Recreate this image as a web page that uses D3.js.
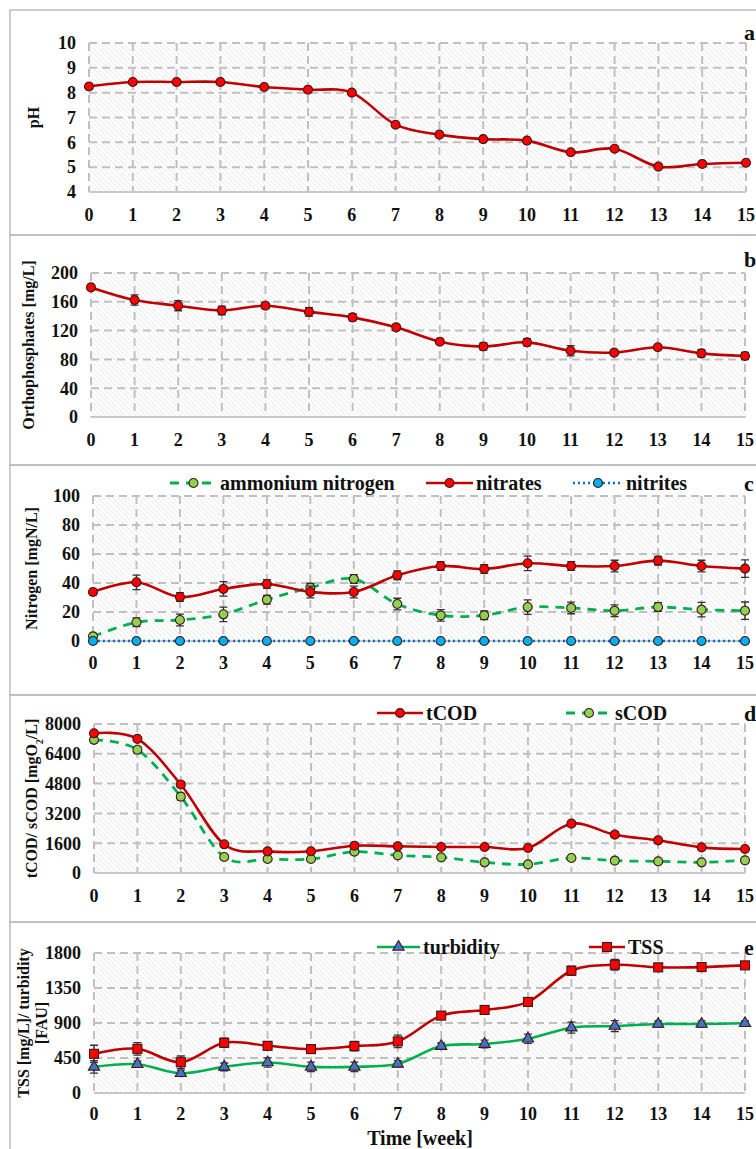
<!DOCTYPE html>
<html>
<head>
<meta charset="utf-8">
<script src="https://cdn.jsdelivr.net/npm/d3@7"></script>
<style>
  body { margin: 0; background: #fff; }
</style>
</head>
<body>
<div id="chart"></div>
<script>
// weeks on the x axis
var weeks = d3.range(0, 16);

// a - pH
var pH = [8.25, 8.43, 8.43, 8.43, 8.23, 8.12, 8.0, 6.71, 6.31, 6.13, 6.07, 5.6, 5.74, 5.02, 5.13, 5.18];
var pHErr = [0.05, 0.05, 0.05, 0.05, 0.05, 0.05, 0.05, 0.05, 0.05, 0.05, 0.05, 0.05, 0.05, 0.05, 0.05, 0.05];
var pHTicks = [4, 5, 6, 7, 8, 9, 10];

// b - orthophosphates
var orthoP = [180, 162.5, 154.6, 148, 154.6, 146, 138.4, 124.5, 104.6, 98, 103.7, 92, 89.4, 96.8, 88.4, 84.7];
var orthoPErr = [3, 7, 7, 6, 4, 6, 5, 4, 3, 5, 5, 7, 3, 3, 5, 5];
var orthoPTicks = [0, 40, 80, 120, 160, 200];

// c - nitrogen forms
var ammonium = [3.2, 12.9, 14.5, 18.4, 28.5, 36.8, 42.8, 25.5, 17.7, 17.7, 23.4, 22.8, 20.9, 23.4, 21.6, 20.9];
var ammoniumErr = [2, 3, 4, 5, 3, 3, 3, 4, 4, 3, 5, 4, 4, 3, 5, 6];
var nitrates = [33.8, 40.5, 30.3, 35.9, 39.3, 33.8, 33.8, 45.3, 51.7, 49.7, 53.6, 51.7, 51.7, 55.4, 51.7, 49.9];
var nitratesErr = [2, 5, 3, 5, 3, 4, 4, 3, 3, 3, 5, 3, 4, 3, 4, 6];
var nitrites = [0, 0, 0, 0, 0, 0, 0, 0, 0, 0, 0, 0, 0, 0, 0, 0];
var nitritesErr = [0, 0, 0, 0, 0, 0, 0, 0, 0, 0, 0, 0, 0, 0, 0, 0];
var nitrogenTicks = [0, 20, 40, 60, 80, 100];

// d - COD
var tCOD = [7500, 7200, 4750, 1540, 1160, 1170, 1467, 1432, 1396, 1396, 1342, 2649, 2058, 1754, 1378, 1289];
var tCODErr = [120, 120, 150, 100, 100, 100, 120, 100, 90, 90, 100, 120, 150, 90, 90, 90];
var sCOD = [7150, 6620, 4100, 860, 750, 750, 1145, 948, 841, 573, 465, 805, 662, 626, 573, 680];
var sCODErr = [120, 150, 180, 120, 110, 120, 110, 100, 90, 90, 100, 90, 90, 80, 80, 80];
var codTicks = [0, 1600, 3200, 4800, 6400, 8000];

// e - TSS / turbidity
var turbidity = [336, 370, 254, 336, 392, 336, 336, 375, 603, 629, 698, 840, 861, 887, 887, 896];
var turbidityErr = [80, 40, 40, 50, 60, 60, 60, 40, 40, 50, 60, 70, 70, 40, 40, 30];
var tss = [504, 568, 396, 646, 607, 564, 603, 663, 995, 1068, 1171, 1572, 1649, 1615, 1619, 1641];
var tssErr = [110, 80, 80, 60, 50, 50, 60, 80, 40, 50, 50, 60, 70, 50, 30, 30];
var tssTicks = [0, 450, 900, 1350, 1800];

var width = 756;
var height = 1149;
var font = "'Liberation Serif', 'Times New Roman', 'DejaVu Serif', serif";

var svg = d3.select("#chart")
  .append("svg")
  .attr("width", width)
  .attr("height", height)
  .attr("font-family", font)
  .attr("font-weight", "bold")
  .style("font-family", font);

svg.append("rect").attr("width", width).attr("height", height).attr("fill", "#fff");

// diagonal hatch behind the plot areas
var defs = svg.append("defs");
var hatch = defs.append("pattern")
  .attr("id", "hatch")
  .attr("patternUnits", "userSpaceOnUse")
  .attr("width", 5)
  .attr("height", 5);
hatch.append("rect").attr("width", 5).attr("height", 5).attr("fill", "#fff");
hatch.append("path")
  .attr("d", "M-1,-1 L6,6 M-1,4 L1,6 M4,-1 L6,1")
  .attr("stroke", "#e4e4e4")
  .attr("stroke-width", 0.8);

var red = { line: "#c00000", fill: "#ff0000", dash: null, width: 2.6, shape: "circle" };
var green = { line: "#00b050", fill: "#92d050", dash: "9,7", width: 2.8, shape: "circle" };
var blue = { line: "#0070c0", fill: "#00b0f0", dash: "2,3", width: 2.4, shape: "circle" };

var panels = [
  { box: [10, 235], x0: 89, x1: 746, y0: 43, y1: 192, ticks: pHTicks, xlabY: 215,
    ylab: ["pH"], ylabX: [33], letter: "a", letterY: 32,
    series: [ { name: "pH", values: pH, err: pHErr, st: red } ] },
  { box: [235, 465], x0: 91, x1: 745, y0: 273, y1: 417, ticks: orthoPTicks, xlabY: 440,
    ylab: ["Orthophosphates [mg/L]"], ylabX: [28], letter: "b", letterY: 259,
    series: [ { name: "ortho", values: orthoP, err: orthoPErr, st: red } ] },
  { box: [465, 695], x0: 93, x1: 745, y0: 496, y1: 641, ticks: nitrogenTicks, xlabY: 663,
    ylab: ["Nitrogen [mgN/L]"], ylabX: [31], letter: "c", letterY: 483,
    series: [
      { name: "ammonium nitrogen", values: ammonium, err: ammoniumErr, st: green, leg: [170, 217] },
      { name: "nitrates", values: nitrates, err: nitratesErr, st: red, leg: [426, 473] },
      { name: "nitrites", values: nitrites, err: nitritesErr, st: blue, leg: [573, 623] }
    ] },
  { box: [695, 922], x0: 94, x1: 745, y0: 724, y1: 873, ticks: codTicks, xlabY: 896,
    ylab: ["tCOD/ sCOD [mgO\u2082/L]"], ylabX: [31], letter: "d", letterY: 713,
    series: [
      { name: "sCOD", values: sCOD, err: sCODErr, st: green, leg: [566, 612] },
      { name: "tCOD", values: tCOD, err: tCODErr, st: red, leg: [377, 423] }
    ] },
  { box: [922, 1160], x0: 94, x1: 745, y0: 953, y1: 1093, ticks: tssTicks, xlabY: 1114,
    ylab: ["TSS [mg/L]/ turbidity", "[FAU]"], ylabX: [23, 41], letter: "e", letterY: 947,
    series: [
      { name: "turbidity", values: turbidity, err: turbidityErr,
        st: { line: "#00b050", fill: "#4472c4", dash: null, width: 2.6, shape: "triangle" }, leg: [377, 420] },
      { name: "TSS", values: tss, err: tssErr,
        st: { line: "#c00000", fill: "#ff0000", dash: null, width: 2.6, shape: "square" }, leg: [589, 625] }
    ] }
];

function txt(sel) {
  return sel.attr("font-family", font).attr("font-weight", "bold").attr("fill", "#111");
}

function marker(sel, shape, fill) {
  if (shape == "triangle") {
    sel.append("path").attr("d", d3.symbol(d3.symbolTriangle, 55)());
  } else if (shape == "square") {
    sel.append("rect").attr("x", -4.5).attr("y", -4.5).attr("width", 9).attr("height", 9);
  } else {
    sel.append("circle").attr("r", 4.5);
  }
  sel.selectAll("circle, rect, path")
    .attr("fill", fill)
    .attr("stroke", "#3a1a1a")
    .attr("stroke-width", 1.1);
}

panels.forEach(function(p) {
  // panel frame
  svg.append("rect")
    .attr("x", 10).attr("y", p.box[0])
    .attr("width", 760).attr("height", p.box[1] - p.box[0])
    .attr("fill", "none")
    .attr("stroke", "#bdbdbd")
    .attr("stroke-width", 1.5);

  var x = d3.scaleLinear().domain([0, 15]).range([p.x0, p.x1]);
  var y = d3.scaleLinear().domain(d3.extent(p.ticks)).range([p.y1, p.y0]);

  var g = svg.append("g");
  g.append("rect")
    .attr("x", p.x0).attr("y", p.y0)
    .attr("width", p.x1 - p.x0).attr("height", p.y1 - p.y0)
    .attr("fill", "url(#hatch)");

  // dashed grid
  g.selectAll(".hgrid")
    .data(p.ticks.slice(1))
    .enter()
    .append("line")
    .attr("x1", p.x0).attr("x2", p.x1)
    .attr("y1", function(d) { return y(d); })
    .attr("y2", function(d) { return y(d); })
    .attr("stroke", "#c0c0c0")
    .attr("stroke-width", 2)
    .attr("stroke-dasharray", "8,5");
  g.selectAll(".vgrid")
    .data(weeks)
    .enter()
    .append("line")
    .attr("x1", function(d) { return x(d); })
    .attr("x2", function(d) { return x(d); })
    .attr("y1", p.y0).attr("y2", p.y1)
    .attr("stroke", "#c0c0c0")
    .attr("stroke-width", 2)
    .attr("stroke-dasharray", "8,5");
  g.append("line")
    .attr("x1", p.x0).attr("x2", p.x1)
    .attr("y1", p.y1).attr("y2", p.y1)
    .attr("stroke", "#c8c8c8")
    .attr("stroke-width", 2);

  // tick labels
  g.selectAll(".ylab")
    .data(p.ticks)
    .enter()
    .append("text")
    .call(txt)
    .attr("x", p.x0 - 13)
    .attr("y", function(d) { return y(d); })
    .attr("dy", "0.35em")
    .attr("text-anchor", "end")
    .attr("font-size", 18)
    .text(function(d) { return d; });
  g.selectAll(".xlab")
    .data(weeks)
    .enter()
    .append("text")
    .call(txt)
    .attr("x", function(d) { return x(d); })
    .attr("y", p.xlabY)
    .attr("dy", "0.35em")
    .attr("text-anchor", "middle")
    .attr("font-size", 18)
    .text(function(d) { return d; });

  // axis title (rotated)
  var cy = (p.y0 + p.y1) / 2;
  p.ylab.forEach(function(t, i) {
    var tx = svg.append("text")
      .call(txt)
      .attr("transform", "translate(" + p.ylabX[i] + "," + cy + ") rotate(-90)")
      .attr("text-anchor", "middle")
      .attr("dy", "0.35em")
      .attr("font-size", 16);
    if (t.indexOf("\u2082") >= 0) {
      var parts = t.split("\u2082");
      tx.append("tspan").text(parts[0]);
      tx.append("tspan").attr("baseline-shift", "sub").attr("font-size", 10).text("2");
      tx.append("tspan").text(parts[1]);
    } else {
      tx.text(t);
    }
  });

  svg.append("text")
    .call(txt)
    .attr("x", 744).attr("y", p.letterY)
    .attr("dy", "0.35em")
    .attr("font-size", 22)
    .text(p.letter);

  var line = d3.line()
    .x(function(d, i) { return x(i); })
    .y(function(d) { return y(d); })
    .curve(d3.curveCatmullRom.alpha(0));

  p.series.forEach(function(s) {
    g.append("path")
      .datum(s.values)
      .attr("fill", "none")
      .attr("stroke", s.st.line)
      .attr("stroke-width", s.st.width)
      .attr("stroke-dasharray", s.st.dash)
      .attr("d", line);
  });

  // error bars and markers on top of lines
  p.series.forEach(function(s) {
    var eb = g.append("g");
    s.values.forEach(function(v, i) {
      if (s.err[i] <= 0) return;
      var xx = x(i), top = y(v + s.err[i]), bot = y(v - s.err[i]);
      eb.append("path")
        .attr("d", "M" + xx + "," + top + "V" + bot +
          "M" + (xx - 4) + "," + top + "H" + (xx + 4) +
          "M" + (xx - 4) + "," + bot + "H" + (xx + 4))
        .attr("stroke", "#333")
        .attr("stroke-width", 1.3)
        .attr("fill", "none");
    });
    g.selectAll(null)
      .data(s.values)
      .enter()
      .append("g")
      .attr("transform", function(d, i) { return "translate(" + x(i) + "," + y(d) + ")"; })
      .each(function() { marker(d3.select(this), s.st.shape, s.st.fill); });
  });

  // legend
  p.series.forEach(function(s) {
    if (!s.leg) return;
    var ly = p.letterY;
    var lg = svg.append("g");
    lg.append("line")
      .attr("x1", s.leg[0]).attr("x2", s.leg[1])
      .attr("y1", ly).attr("y2", ly)
      .attr("stroke", s.st.line)
      .attr("stroke-width", s.st.width)
      .attr("stroke-dasharray", s.st.dash);
    var m = lg.append("g").attr("transform", "translate(" + ((s.leg[0] + s.leg[1]) / 2) + "," + ly + ")");
    marker(m, s.st.shape, s.st.fill);
    lg.append("text")
      .call(txt)
      .attr("x", s.leg[1] + 3)
      .attr("y", ly)
      .attr("dy", "0.35em")
      .attr("font-size", 20)
      .text(s.name);
  });
});

svg.append("text")
  .call(txt)
  .attr("x", 420)
  .attr("y", 1138)
  .attr("dy", "0.35em")
  .attr("text-anchor", "middle")
  .attr("font-size", 20)
  .text("Time [week]");
</script>
</body>
</html>
